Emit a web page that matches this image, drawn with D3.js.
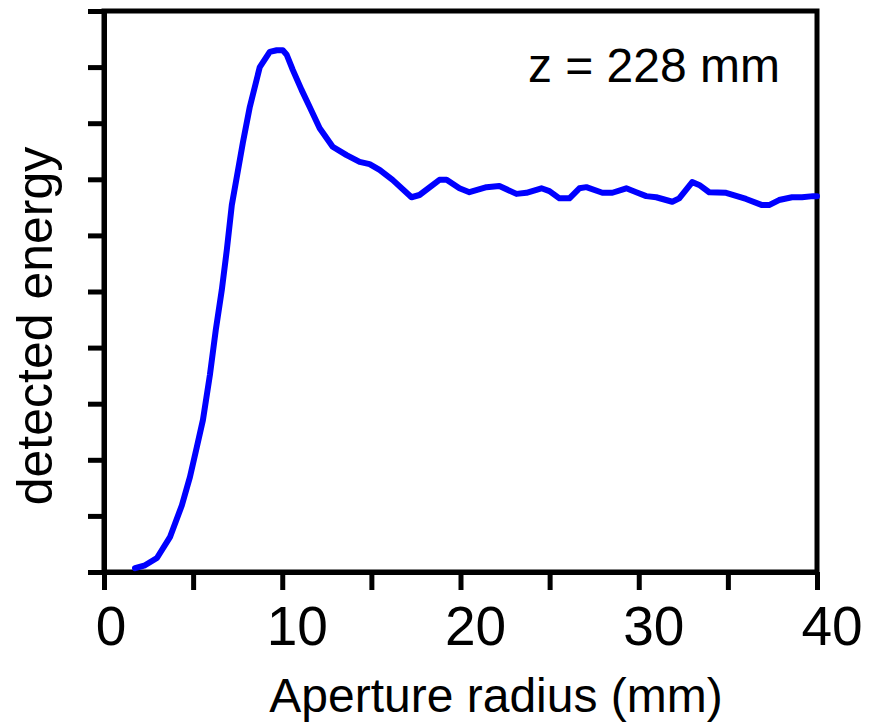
<!DOCTYPE html>
<html>
<head>
<meta charset="utf-8">
<script src="https://cdn.jsdelivr.net/npm/d3@7"></script>
<style>
  html, body { margin: 0; padding: 0; background: #fff; }
  svg { display: block; }
  text { font-family: "Liberation Sans", Arial, Helvetica, sans-serif; fill: #000; }
</style>
</head>
<body>
<svg id="chart" width="878" height="725"></svg>
<script>
// Aperture radius (mm) and detected energy (arbitrary units) at z = 228 mm
const radius = [
  1.74, 2.30, 2.97, 3.70, 4.37, 4.82, 5.21, 5.55, 5.94, 6.27, 6.61, 6.89, 7.17, 7.45,
  7.79, 8.18, 8.74, 9.30, 9.69, 10.03, 10.25, 10.59, 11.09, 11.54, 12.10, 12.83, 13.61,
  14.34, 14.90, 15.46, 16.19, 17.25, 17.70, 18.82, 19.22, 19.94, 20.50, 21.46, 22.18,
  23.14, 23.70, 24.54, 24.99, 25.55, 26.11, 26.67, 27.06, 27.96, 28.52, 29.30, 29.86,
  30.42, 30.98, 31.88, 32.27, 33.00, 33.39, 33.95, 34.90, 36.02, 36.92, 37.31, 37.87,
  38.60, 39.16, 39.78, 40.00
];
const energy = [
  0.07, 0.12, 0.25, 0.62, 1.19, 1.69, 2.23, 2.71, 3.51, 4.31, 5.03, 5.74, 6.54, 7.04,
  7.65, 8.29, 9.00, 9.27, 9.30, 9.30, 9.22, 8.95, 8.59, 8.29, 7.91, 7.58, 7.43,
  7.31, 7.27, 7.17, 6.99, 6.68, 6.72, 6.99, 6.99, 6.84, 6.77, 6.86, 6.88,
  6.74, 6.76, 6.84, 6.79, 6.66, 6.66, 6.84, 6.86, 6.76, 6.76, 6.84, 6.77,
  6.70, 6.68, 6.60, 6.66, 6.95, 6.90, 6.77, 6.76, 6.65, 6.54, 6.54, 6.63,
  6.68, 6.68, 6.70, 6.70
];
const xTickValues = [0, 5, 10, 15, 20, 25, 30, 35, 40];
const xTickLabels = ["0", "10", "20", "30", "40"];
const yTickValues = [0, 1, 2, 3, 4, 5, 6, 7, 8, 9, 10];
const xTitle = "Aperture radius (mm)";
const yTitle = "detected energy";
const note = "z = 228 mm";

const svg = d3.select("#chart");
const plotLeft = 104, plotRight = 817, plotTop = 11, plotBottom = 572;

const x = d3.scaleLinear().domain([0, 40]).range([plotLeft, plotRight]);
const y = d3.scaleLinear().domain([0, 10]).range([plotBottom, plotTop]);

// frame around the plotting area
svg.append("rect")
  .attr("x", plotLeft).attr("y", plotTop)
  .attr("width", plotRight - plotLeft).attr("height", plotBottom - plotTop)
  .attr("fill", "none").attr("stroke", "#000").attr("stroke-width", 5);

// y axis: unlabeled ticks
const gy = svg.append("g")
  .attr("transform", `translate(${plotLeft},0)`)
  .call(d3.axisLeft(y).tickValues(yTickValues).tickSize(16).tickSizeOuter(0).tickFormat(""));
gy.selectAll("path, line").attr("stroke", "#000").attr("stroke-width", 5);

// x axis ticks
const gx = svg.append("g")
  .attr("transform", `translate(0,${plotBottom})`)
  .call(d3.axisBottom(x).tickValues(xTickValues).tickSize(18).tickSizeOuter(0).tickFormat(""));
gx.selectAll("path, line").attr("stroke", "#000").attr("stroke-width", 5);

// x tick labels
svg.append("g").selectAll("text")
  .data(xTickLabels)
  .join("text")
  .attr("x", d => x(+d) + (d.length > 1 ? 15 : 7))
  .attr("y", 645)
  .attr("text-anchor", "middle")
  .attr("font-size", 55)
  .text(d => d);

// axis titles
svg.append("text")
  .attr("x", 496).attr("y", 712)
  .attr("text-anchor", "middle")
  .attr("font-size", 48)
  .text(xTitle);

svg.append("text")
  .attr("transform", "translate(52,326) rotate(-90)")
  .attr("text-anchor", "middle")
  .attr("font-size", 50)
  .text(yTitle);

// annotation
svg.append("text")
  .attr("x", 780).attr("y", 82)
  .attr("text-anchor", "end")
  .attr("font-size", 48)
  .text(note);

// energy curve
const pts = radius.map((r, i) => [r, energy[i]]);
svg.append("path")
  .datum(pts)
  .attr("fill", "none")
  .attr("stroke", "#0000ff")
  .attr("stroke-width", 6)
  .attr("stroke-linejoin", "round")
  .attr("stroke-linecap", "round")
  .attr("d", d3.line().x(d => x(d[0])).y(d => y(d[1])));
</script>
</body>
</html>
